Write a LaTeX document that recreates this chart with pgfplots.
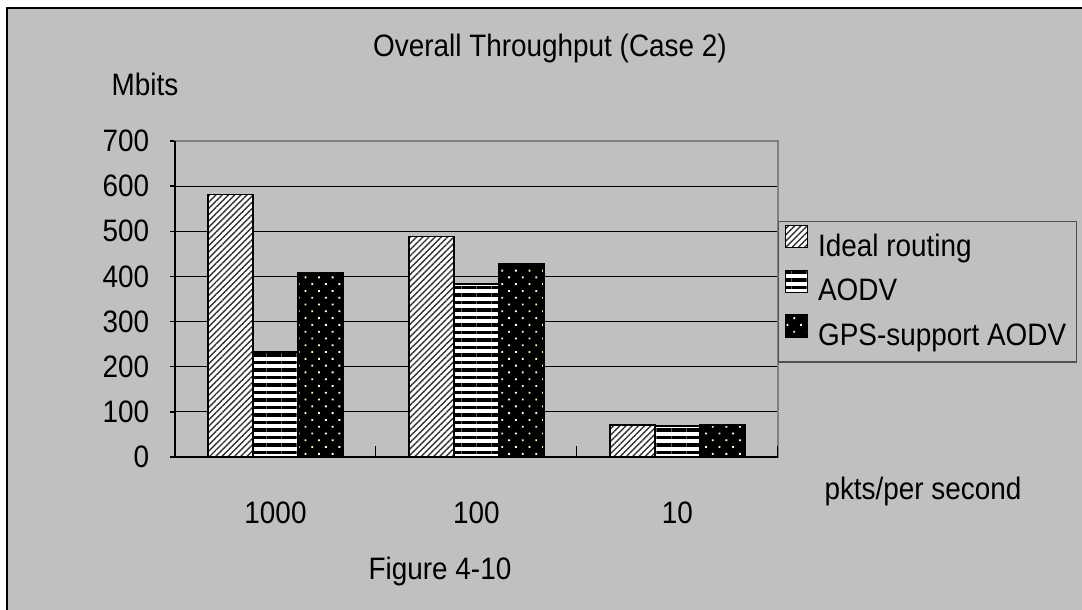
\documentclass[border=0pt]{standalone}
\usepackage{pgfplots}
\pgfplotsset{compat=1.18}
\usepackage{fontspec}
\setmainfont{Liberation Sans}[FakeStretch=0.9]
\usetikzlibrary{patterns.meta}
\definecolor{bg}{HTML}{C0C0C0}
\definecolor{framegray}{HTML}{808080}
\definecolor{leggray}{HTML}{505050}
\definecolor{dotc}{HTML}{FFFFD8}
\newcommand{\chartfont}{\fontsize{15.5}{18}\selectfont}
\begin{document}
\chartfont
\begin{tikzpicture}
\begin{scope}[shift={(-87.5pt,228.5pt)},x=0.5pt,y=-0.5pt]
  \fill[white] (0,0) rectangle (1082,610);
  \fill[bg] (7,8) rectangle (1082,610);
  \draw[black, line width=1pt] (7,610) -- (7,8) -- (1082,8);
\end{scope}
\begin{axis}[
  at={(0pt,0pt)}, anchor=south west,
  scale only axis, width=301.5pt, height=158pt,
  clip=false,
  xmin=-0.5, xmax=2.5, ymin=0, ymax=700,
  ybar=0pt, bar width=22.5pt,
  legend image code/.code={\draw[#1] (1pt,-0.1pt) rectangle (12pt,10.9pt); \path (15pt,0pt);},
  xtick={0,1,2}, xticklabels={1000,100,10},
  ytick={0,100,...,700},
  xtick pos=bottom, ytick pos=left,
  tick align=outside, major tick length=2.5pt,
  xtick style={draw=none},
  extra x ticks={0.5,1.5,2.5}, extra x tick labels={},
  extra x tick style={major tick length=5.5pt, tick align=inside, xtick pos=bottom, xtick style={draw=black, line width=0.5pt}},
  ytick style={draw=black, line width=0.75pt},
  ymajorgrids, major grid style={black, line width=0.5pt},
  axis line style={framegray, line width=1pt},
  /pgf/number format/assume math mode=true,
  tick label style={font=\chartfont},
  yticklabel style={xshift=-5pt},
  xticklabel style={yshift=-14.5pt},
  legend style={at={(1,0.747)}, anchor=north west, draw=leggray, line width=0.6pt, fill=bg,
    inner xsep=3pt, inner ysep=1.5pt, row sep=0pt,
    nodes={inner xsep=2pt, inner ysep=4.5pt, font=\chartfont}},
  legend cell align=left,
]
\addplot[draw=black, line width=0.75pt, fill=white,
  postaction={pattern={Lines[angle=45,distance=2.2pt,line width=0.7pt]}, pattern color=black!80}]
  coordinates {(0,582) (1,488) (2,71)};
\addplot[draw=black, line width=0.75pt, fill=white,
  postaction={pattern={Lines[angle=0,distance=3.75pt,line width=1.6pt]}, pattern color=black}]
  coordinates {(0,233) (1,383) (2,69)};
\addplot[draw=black, line width=0.75pt, fill=black,
  postaction={pattern={Dots[distance=4.8pt,angle=45,radius=0.65pt]}, pattern color=dotc}]
  coordinates {(0,409) (1,427) (2,71)};
\legend{Ideal routing, AODV, GPS-support AODV}
\draw[black, line width=0.75pt] (rel axis cs:0,1) -- (rel axis cs:0,0) -- (rel axis cs:1,0);
\end{axis}
\begin{scope}[shift={(-87.5pt,228.5pt)},x=0.5pt,y=-0.5pt]
  \node[anchor=base, inner sep=0pt] at (550,57) {Overall Throughput (Case 2)};
  \node[anchor=base, inner sep=0pt] at (145,96) {Mbits};
  \node[anchor=base, inner sep=0pt] at (923,500) {pkts/per second};
  \node[anchor=base, inner sep=0pt] at (440,580) {Figure 4-10};
  \pgfresetboundingbox
  \path (0,0) rectangle (1082,610);
\end{scope}
\end{tikzpicture}
\end{document}
